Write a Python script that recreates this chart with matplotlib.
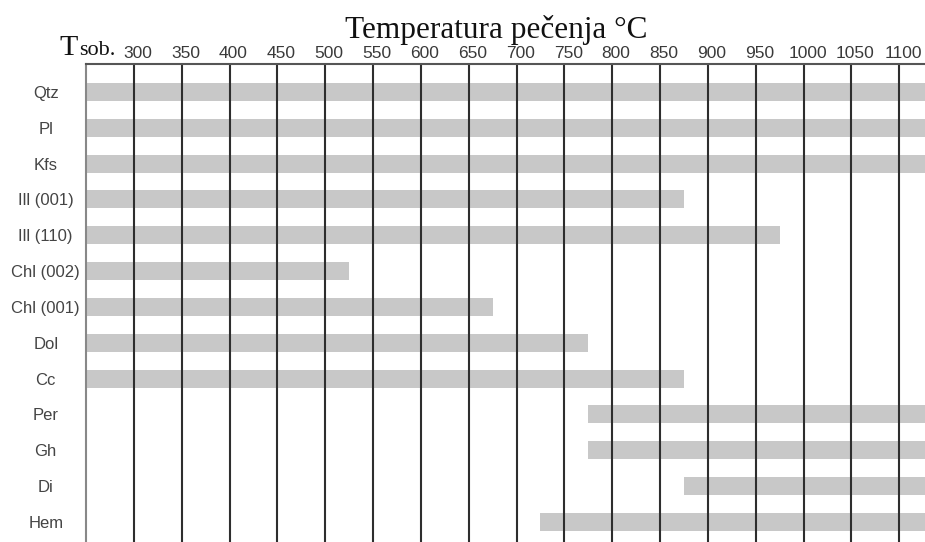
import matplotlib.pyplot as plt
from matplotlib.transforms import ScaledTranslation, blended_transform_factory

# minerals (top to bottom) and the temperature span of each bar
minerals = ["Qtz", "Pl", "Kfs", "Ill (001)", "Ill (110)", "Chl (002)", "Chl (001)",
            "Dol", "Cc", "Per", "Gh", "Di", "Hem"]
start = [250, 250, 250, 250, 250, 250, 250, 250, 250, 775, 775, 875, 725]
end = [1150, 1150, 1150, 875, 975, 525, 675, 775, 875, 1150, 1150, 1150, 1150]

temps = [300, 350, 400, 450, 500, 550, 600, 650, 700, 750, 800, 850, 900,
         950, 1000, 1050, 1100]

fig = plt.figure(figsize=(9.25, 5.42), dpi=100)
ax = fig.add_axes([86 / 925, 0.0, 1 - 86 / 925, (542 - 64) / 542])

rows = list(range(len(minerals)))
widths = [e - s for s, e in zip(start, end)]
ax.barh(rows, widths, left=start, height=0.5, color="#c8c8c8", zorder=1)

# vertical grid at every temperature step
for t in temps:
    ax.axvline(t, color="#2e2e2e", lw=1.5, zorder=2)

ax.set_xlim(250, 1127)
ax.set_ylim(12.56, -0.78)

ax.xaxis.tick_top()
ax.set_xticks(temps)
ax.set_xticklabels([str(t) for t in temps], fontsize=12.5, color="#3a3a3a",
                   family="Liberation Sans")
ax.tick_params(axis="x", length=0, pad=2.5)
for lab in ax.get_xticklabels():
    lab.set_transform(lab.get_transform() + ScaledTranslation(0.04, 0, fig.dpi_scale_trans))

ax.set_yticks(rows)
ax.set_yticklabels(minerals, fontsize=12, color="#444444", family="Liberation Sans")
ax.tick_params(axis="y", length=0, pad=29)
for lab in ax.get_yticklabels():
    lab.set_horizontalalignment("center")

ax.spines["right"].set_visible(False)
ax.spines["bottom"].set_visible(False)
ax.spines["top"].set_color("#555555")
ax.spines["top"].set_linewidth(1.5)
ax.spines["left"].set_color("#888888")
ax.spines["left"].set_linewidth(1.5)

# "T sob." label for room temperature column
tr = blended_transform_factory(ax.transData, ax.transAxes)
y_base = 1 + 9 / 478
ax.text(241.5, y_base, "T", transform=tr, ha="right", va="baseline",
        fontsize=21.5, family="Liberation Serif", color="#111111")
ax.text(242.5, y_base, "sob.", transform=tr, ha="left", va="baseline",
        fontsize=16, family="Liberation Serif", color="#111111")

fig.text(496 / 925, 1 - 38 / 542, "Temperatura pečenja °C", ha="center", va="baseline",
         fontsize=22.5, family="Liberation Serif", color="#111111")

fig.savefig("out.png", dpi=100)
